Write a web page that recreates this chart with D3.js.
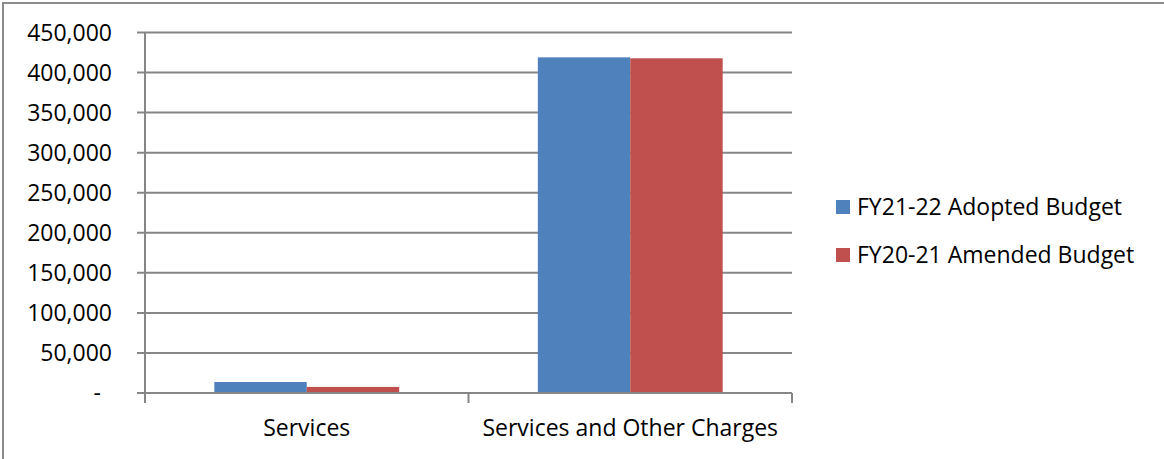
<!DOCTYPE html>
<html>
<head>
<meta charset="utf-8">
<script src="https://cdn.jsdelivr.net/npm/d3@7"></script>
<style>
  html, body { margin: 0; padding: 0; background: #fff; }
  svg { display: block; }
  text { font-family: "Open Sans", sans-serif; fill: #000; }
</style>
</head>
<body>
<svg id="chart" width="1164" height="459"></svg>
<script>
// Budget comparison by expenditure category
const categories = ["Services", "Services and Other Charges"];
const seriesNames = ["FY21-22 Adopted Budget", "FY20-21 Amended Budget"];
const adopted = [13700, 419000];
const amended = [7600, 417800];
const yTicks = [0, 50000, 100000, 150000, 200000, 250000, 300000, 350000, 400000, 450000];
const colors = ["#4f81bd", "#c0504d"];

const svg = d3.select("#chart");
const W = 1164, H = 459;
const plot = { left: 145, right: 792, top: 32.5, bottom: 393 };
const gridColor = "#868686";

// Outer chart border (left and top edges visible)
svg.append("path")
  .attr("d", `M3,${H} V3 H${W}`)
  .attr("fill", "none")
  .attr("stroke", "#8c8c8c")
  .attr("stroke-width", 2);

const y = d3.scaleLinear().domain([0, 450000]).range([plot.bottom, plot.top]);
const x0 = d3.scaleBand().domain(categories).range([plot.left, plot.right]).paddingInner(0).paddingOuter(0);
// Gap width of 150% of a bar: two bars occupy 2/3.5 of each category band
const x1 = d3.scaleBand().domain(seriesNames).range([0, x0.bandwidth()]).paddingInner(0).paddingOuter(0.75 / 1.0);

// Horizontal gridlines with outward tick stubs
const g = svg.append("g");
g.selectAll("line.grid")
  .data(yTicks)
  .join("line")
  .attr("class", "grid")
  .attr("x1", plot.left - 8)
  .attr("x2", plot.right)
  .attr("y1", d => y(d))
  .attr("y2", d => y(d))
  .attr("stroke", gridColor)
  .attr("stroke-width", 2);

// Y tick labels
const fmt = d3.format(",");
g.selectAll("text.ylab")
  .data(yTicks)
  .join("text")
  .attr("class", "ylab")
  .attr("x", d => d === 0 ? 101 : 112)
  .attr("y", d => y(d))
  .attr("dy", "0.36em")
  .attr("text-anchor", "end")
  .attr("font-size", 23)
  .text(d => d === 0 ? "-" : fmt(d));

// Bars
const data = categories.map((c, i) => ({ cat: c, values: [adopted[i], amended[i]] }));
const groups = svg.append("g").selectAll("g")
  .data(data)
  .join("g")
  .attr("transform", d => `translate(${x0(d.cat)},0)`);
groups.selectAll("rect")
  .data(d => d.values.map((v, j) => ({ name: seriesNames[j], v, j })))
  .join("rect")
  .attr("x", d => x1(d.name))
  .attr("width", x1.bandwidth())
  .attr("y", d => y(d.v))
  .attr("height", d => y(0) - y(d.v))
  .attr("fill", d => colors[d.j]);

// Axes lines
svg.append("line")
  .attr("x1", plot.left).attr("x2", plot.left)
  .attr("y1", plot.top).attr("y2", plot.bottom + 10)
  .attr("stroke", gridColor).attr("stroke-width", 2);
svg.append("line")
  .attr("x1", plot.left - 8).attr("x2", plot.right)
  .attr("y1", plot.bottom).attr("y2", plot.bottom)
  .attr("stroke", gridColor).attr("stroke-width", 2);

// Category tick marks at band boundaries
const boundaries = categories.map(c => x0(c)).concat([plot.right]);
svg.selectAll("line.xtick")
  .data(boundaries)
  .join("line")
  .attr("class", "xtick")
  .attr("x1", d => d).attr("x2", d => d)
  .attr("y1", plot.bottom).attr("y2", plot.bottom + 10)
  .attr("stroke", gridColor).attr("stroke-width", 2);

// Category labels
svg.selectAll("text.xlab")
  .data(categories)
  .join("text")
  .attr("class", "xlab")
  .attr("x", d => x0(d) + x0.bandwidth() / 2)
  .attr("y", 436)
  .attr("text-anchor", "middle")
  .attr("font-size", 23)
  .text(d => d);

// Legend
const legend = svg.append("g").attr("transform", "translate(836,200)");
const items = legend.selectAll("g")
  .data(seriesNames)
  .join("g")
  .attr("transform", (d, i) => `translate(0,${i * 48})`);
items.append("rect")
  .attr("width", 14).attr("height", 14)
  .attr("fill", (d, i) => colors[i]);
items.append("text")
  .attr("x", 21)
  .attr("y", 7)
  .attr("dy", "0.36em")
  .attr("font-size", 23)
  .text(d => d);
</script>
</body>
</html>
